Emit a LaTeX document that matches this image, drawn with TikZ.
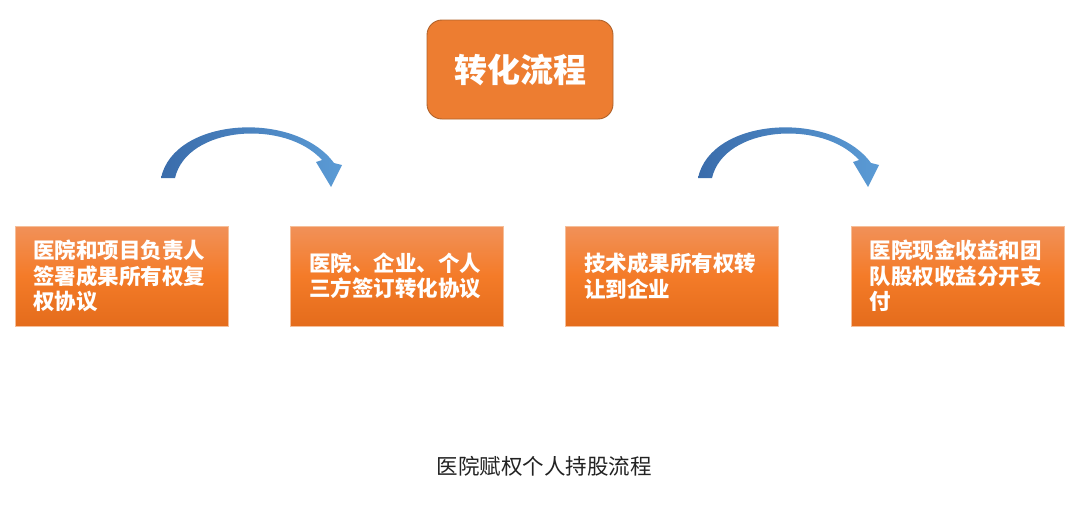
\documentclass[tikz,border=0pt]{standalone}
\usepackage{fontspec}
\newfontfamily\cjk{Noto Sans CJK SC}
\definecolor{titlefill}{HTML}{ED7D31}
\definecolor{titleedge}{HTML}{B0622A}
\definecolor{boxtop}{HTML}{F19159}
\definecolor{boxmid}{HTML}{F47B28}
\definecolor{boxbot}{HTML}{E46C1C}
\definecolor{boxedge}{HTML}{F6BE98}
\definecolor{arrowdark}{HTML}{3A6CAB}
\definecolor{arrowlight}{HTML}{5B9BD5}
\definecolor{captioncol}{HTML}{222222}
\tikzset{
  stepbox/.style={rectangle, minimum width=213pt, minimum height=100pt, inner sep=0pt,
    top color=boxtop, bottom color=boxbot, middle color=boxmid, draw=boxedge, line width=0.7pt},
  steptext/.style={text=white, align=left, text width=176pt, inner sep=0pt,
    font=\cjk\bfseries\fontsize{21.5}{25.5}\selectfont},
  titlebox/.style={rectangle, rounded corners=15pt, minimum width=186pt, minimum height=99pt,
    fill=titlefill, draw=titleedge, line width=0.9pt, text=white,
    font=\cjk\bfseries\fontsize{33}{40}\selectfont},
  bluearrow/.style={left color=arrowdark, right color=arrowlight, draw=none}
}
\begin{document}
\begin{tikzpicture}[x=1pt,y=-1pt]
\useasboundingbox (0,0) rectangle (1080,514);
% title
\node[titlebox] (title) at (520,69.5) {转化流程};
% boxes
\node[stepbox] (b1) at (121.5,276) {};
\node[steptext] (t1) at (b1.center) {医院和项目负责人\\签署成果所有权复\\权协议};
\node[stepbox] (b2) at (397,276) {};
\node[steptext] (t2) at (b2.center) {医院、企业、个人\\三方签订转化协议};
\node[stepbox] (b3) at (672,276) {};
\node[steptext] (t3) at (b3.center) {技术成果所有权转\\让到企业};
\node[stepbox] (b4) at (957.5,276) {};
\node[steptext] (t4) at (b4.center) {医院现金收益和团\\队股权收益分开支\\付};
% curved arrows
\foreach \dx in {0,537}{
  \begin{scope}[xshift=\dx pt]
  \path[bluearrow] (161,178) .. controls (174,117) and (295,110) .. (334,163)
    -- (342,165) -- (331,187) -- (316,162) -- (322,160)
    .. controls (285,119) and (187,126) .. (175,178) -- cycle;
  \end{scope}
}
% caption
\node[font=\cjk\fontsize{21.5}{25}\selectfont, text=captioncol] (cap) at (544,466) {医院赋权个人持股流程};
\end{tikzpicture}
\end{document}
